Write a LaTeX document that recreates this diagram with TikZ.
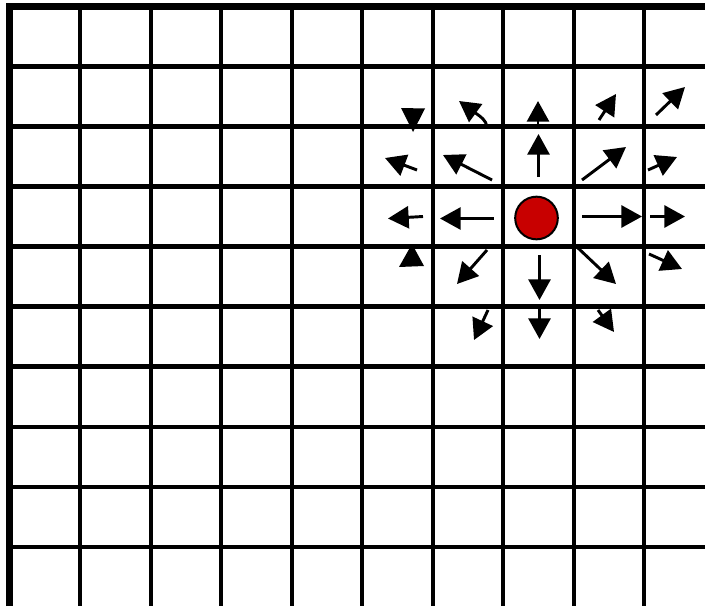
\documentclass[tikz,border=0pt]{standalone}
\usetikzlibrary{arrows.meta}
\definecolor{chargered}{RGB}{200,0,0}
\begin{document}
\begin{tikzpicture}[x=0.75pt,y=-0.75pt,
  gridv/.style={line width=3pt},
  gridh/.style={line width=3.6pt},
  borderline/.style={line width=5.25pt},
  fieldarrow/.style={line width=2.2pt,-{Triangle[length=15.5pt,width=16.5pt]}},
  headonly/.style={fill=black},
  chargenode/.style={circle,draw=black,line width=1.5pt,fill=chargered,minimum size=32pt,inner sep=0pt}]
\useasboundingbox (0,0) rectangle (705,606);
\fill[white] (0,0) rectangle (705,606);
% grid
\foreach \x in {80,150.5,221,291.5,362,432.5,503,573.5,644}
  \draw[gridv] (\x,6.5) -- (\x,606);
\foreach \y in {66.5,126.6,186.7,246.7,306.8,366.8,426.9,486.9,547}
  \draw[gridh] (9.5,\y) -- (705,\y);
\draw[borderline] (9.5,606) -- (9.5,6.5) -- (705,6.5);
% charge
\node[chargenode] (q) at (536.5,218) {};
% arrow end points
\coordinate (b1) at (487,127); \coordinate (b2) at (459,101);
\coordinate (c1) at (538,125); \coordinate (c2) at (538,101);
\coordinate (d1) at (599,120); \coordinate (d2) at (616,94);
\coordinate (e1) at (656,115); \coordinate (e2) at (685,87);
\coordinate (f1) at (417,170); \coordinate (f2) at (385,158);
\coordinate (g1) at (492,180); \coordinate (g2) at (443,155);
\coordinate (h1) at (538.5,177) ; \coordinate (h2) at (538.5,134);
\coordinate (i1) at (582,180); \coordinate (i2) at (626,147);
\coordinate (j1) at (648,170); \coordinate (j2) at (677,157);
\coordinate (k1) at (423,216.5); \coordinate (k2) at (388,218.5);
\coordinate (l1) at (493.5,218.5); \coordinate (l2) at (440,218.5);
\coordinate (m1) at (582,216.5); \coordinate (m2) at (642,216.5);
\coordinate (n1) at (650,216.5); \coordinate (n2) at (685,216.5);
\coordinate (p1) at (487,250); \coordinate (p2) at (457,284);
\coordinate (q1) at (539.5,255); \coordinate (q2) at (539.5,300);
\coordinate (r1) at (578,248); \coordinate (r2) at (616,284);
\coordinate (s1) at (649,254); \coordinate (s2) at (682,269);
\coordinate (t1) at (488,310); \coordinate (t2) at (474,340);
\coordinate (u1) at (539.5,306); \coordinate (u2) at (539.5,339);
\coordinate (v1) at (598,310); \coordinate (v2) at (614,332);
% field arrows
\draw[fieldarrow] (b1) .. controls (486,120) and (481,117) .. (b2);
\foreach \a in {c,d,e,f,g,h,i,j,k,l,m,n,p,q,r,s,t,u,v}
  \draw[fieldarrow] (\a1) -- (\a2);
% clipped heads
\fill[headonly] (401,108) -- (425,108.5) -- (413,132) -- cycle;
\fill[headonly] (399,267) -- (424,266) -- (412,244) -- cycle;
\end{tikzpicture}
\end{document}
